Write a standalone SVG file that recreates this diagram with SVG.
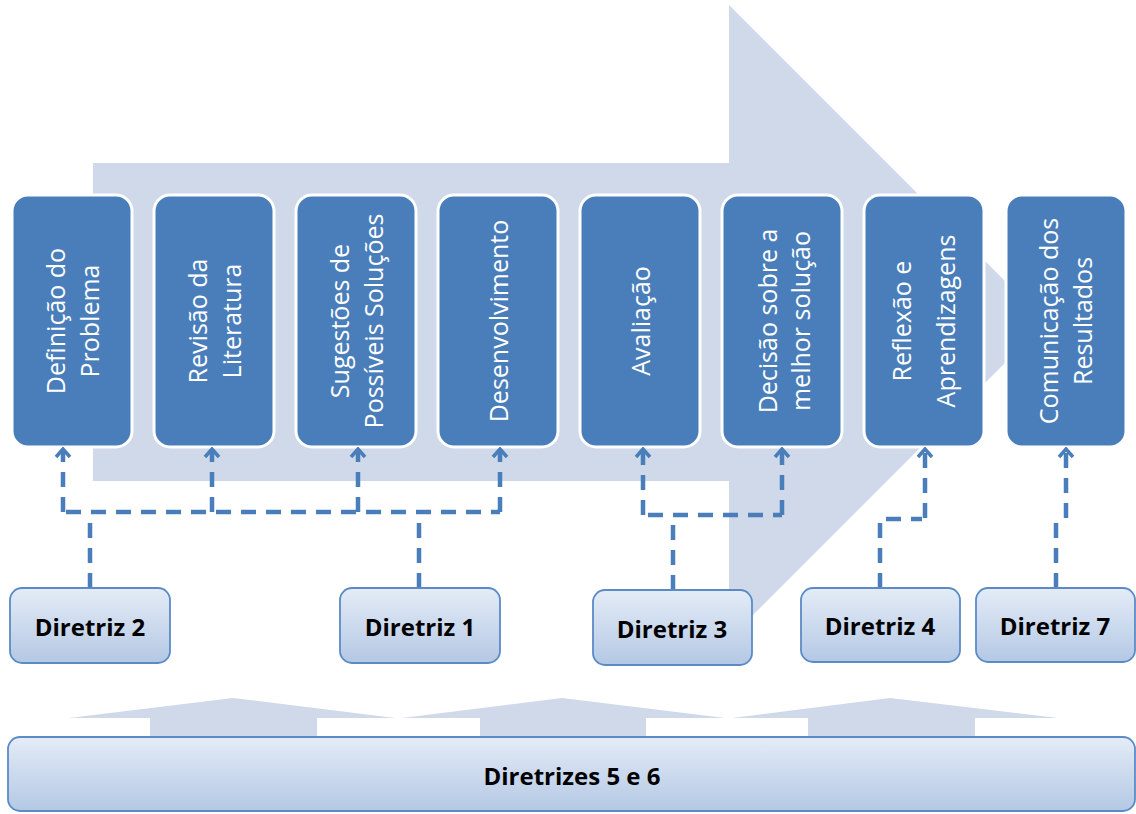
<svg xmlns="http://www.w3.org/2000/svg" width="1136" height="814" viewBox="0 0 1136 814">
  <defs>
    <linearGradient id="pale" x1="0" y1="0" x2="0" y2="1">
      <stop offset="0" stop-color="#e4ecf7"/>
      <stop offset="1" stop-color="#b4c8e4"/>
    </linearGradient>
    <marker id="chev" viewBox="0 0 12 18" refX="10" refY="9" markerWidth="12" markerHeight="18" markerUnits="userSpaceOnUse" orient="auto">
      <path d="M2,2 L10,9 L2,16" fill="none" stroke="#4a7ebb" stroke-width="3.5" stroke-dasharray="none"/>
    </marker>
    <style>
      .bg { fill: #cfd9e9; }
      .step rect { fill: #4a7ebb; stroke: #ffffff; stroke-width: 3; }
      .step text { fill: #ffffff; font-family: "Open Sans", "Noto Sans", sans-serif; font-size: 25px; text-anchor: middle; dominant-baseline: central; }
      .guide rect { fill: url(#pale); stroke: #5b8bc6; stroke-width: 1.8; }
      .guide text { fill: #000000; font-family: "Open Sans", "Noto Sans", sans-serif; font-size: 24px; font-weight: bold; text-anchor: middle; dominant-baseline: central; }
      .dash { fill: none; stroke: #4a7ebb; stroke-width: 4.5; stroke-dasharray: 15 10; }
      .tip { marker-end: url(#chev); }
    </style>
  </defs>

  <rect width="1136" height="814" fill="#ffffff"/>

  <!-- large background process arrow -->
  <polygon class="bg" points="93,163 729,163 729,5 1046,322 729,639 729,481 93,481"/>

  <!-- small upward arrows above the base bar -->
  <g id="lift-arrows" class="bg">
    <polygon points="150,738 150,718 69,718 233,698 395,718 317,718 317,738"/>
    <polygon points="480,738 480,718 402,718 562,698 725,718 646,718 646,738"/>
    <polygon points="808,738 808,718 732,718 890,698 1058,718 975,718 975,738"/>
  </g>

  <!-- process steps -->
  <g id="step-1" class="step">
    <rect x="12" y="195" width="120" height="252" rx="16"/>
    <text transform="translate(72,321) rotate(-90)"><tspan x="0" y="-17">Definição do</tspan><tspan x="0" y="17">Problema</tspan></text>
  </g>
  <g id="step-2" class="step">
    <rect x="154" y="195" width="120" height="252" rx="16"/>
    <text transform="translate(214,321) rotate(-90)"><tspan x="0" y="-17">Revisão da</tspan><tspan x="0" y="17">Literatura</tspan></text>
  </g>
  <g id="step-3" class="step">
    <rect x="296" y="195" width="120" height="252" rx="16"/>
    <text transform="translate(356,321) rotate(-90)"><tspan x="0" y="-17">Sugestões de</tspan><tspan x="0" y="17">Possíveis Soluções</tspan></text>
  </g>
  <g id="step-4" class="step">
    <rect x="438" y="195" width="120" height="252" rx="16"/>
    <text transform="translate(498,321) rotate(-90)">Desenvolvimento</text>
  </g>
  <g id="step-5" class="step">
    <rect x="580" y="195" width="120" height="252" rx="16"/>
    <text transform="translate(640,321) rotate(-90)">Avaliação</text>
  </g>
  <g id="step-6" class="step">
    <rect x="722" y="195" width="120" height="252" rx="16"/>
    <text transform="translate(783,321) rotate(-90)"><tspan x="0" y="-16">Decisão sobre a</tspan><tspan x="0" y="17">melhor solução</tspan></text>
  </g>
  <g id="step-7" class="step">
    <rect x="864" y="195" width="120" height="252" rx="16"/>
    <text transform="translate(923,321) rotate(-90)"><tspan x="0" y="-22">Reflexão e</tspan><tspan x="0" y="22">Aprendizagens</tspan></text>
  </g>
  <g id="step-8" class="step">
    <rect x="1006" y="195" width="120" height="252" rx="16"/>
    <text transform="translate(1065,321) rotate(-90)"><tspan x="0" y="-17">Comunicação dos</tspan><tspan x="0" y="17">Resultados</tspan></text>
  </g>

  <!-- dashed links from guidelines to steps -->
  <g id="connectors">
    <path class="dash" d="M66,512 H500"/>
    <path class="dash tip" d="M63,512 V449"/>
    <path class="dash tip" d="M212,512 V449"/>
    <path class="dash tip" d="M358,512 V449"/>
    <path class="dash tip" d="M500,512 V449"/>
    <path class="dash" d="M90,588 V516"/>
    <path class="dash" d="M419,588 V516"/>

    <path class="dash" d="M648,515 H782"/>
    <path class="dash tip" d="M643,515 V449"/>
    <path class="dash tip" d="M782,515 V449"/>
    <path class="dash" d="M673,590 V519"/>

    <path class="dash" d="M880,588 V519 H922"/>
    <path class="dash tip" d="M925,518 V449"/>

    <path class="dash" d="M1056,588 V522 L1058,519"/>
    <path class="dash tip" d="M1066,518 V449"/>
  </g>

  <!-- guideline boxes -->
  <g id="guide-2" class="guide">
    <rect x="10" y="588" width="160" height="75" rx="12"/>
    <text x="90" y="626">Diretriz 2</text>
  </g>
  <g id="guide-1" class="guide">
    <rect x="340" y="588" width="160" height="75" rx="12"/>
    <text x="420" y="626">Diretriz 1</text>
  </g>
  <g id="guide-3" class="guide">
    <rect x="593" y="590" width="159" height="75" rx="12"/>
    <text x="672" y="628">Diretriz 3</text>
  </g>
  <g id="guide-4" class="guide">
    <rect x="801" y="588" width="159" height="74" rx="12"/>
    <text x="880" y="625">Diretriz 4</text>
  </g>
  <g id="guide-7" class="guide">
    <rect x="976" y="588" width="159" height="74" rx="12"/>
    <text x="1055" y="625">Diretriz 7</text>
  </g>
  <g id="guide-5-6" class="guide">
    <rect x="8" y="737" width="1127" height="74" rx="12"/>
    <text x="572" y="775">Diretrizes 5 e 6</text>
  </g>
</svg>
